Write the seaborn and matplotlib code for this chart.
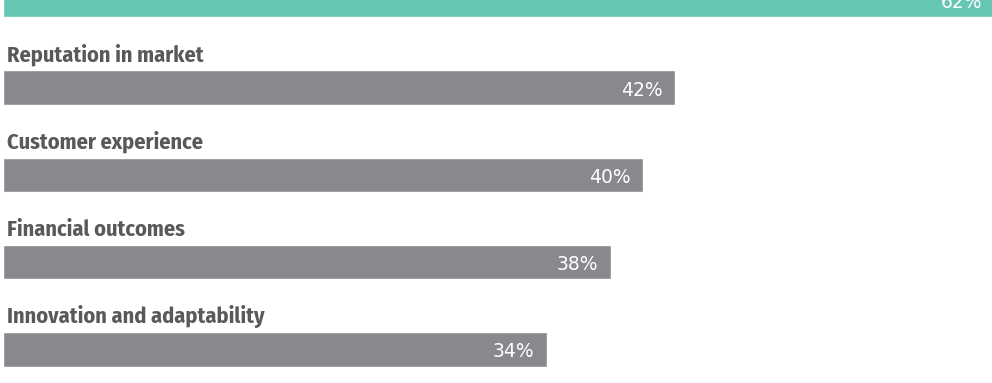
import matplotlib
matplotlib.use("Agg")
import matplotlib.pyplot as plt
import seaborn as sns
import pandas as pd

categories = ["Overall", "Reputation in market", "Customer experience",
              "Financial outcomes", "Innovation and adaptability"]
values = [62, 42, 40, 38, 34]
value_labels = ["62%", "42%", "40%", "38%", "34%"]
bar_colors = ["#66c6b4", "#88898c", "#88898c", "#88898c", "#88898c"]

sns.set_theme(style="white")
plt.rcParams["font.family"] = ["Fira Sans Condensed", "PT Sans Narrow",
                               "Asap Condensed", "DejaVu Sans"]

df = pd.DataFrame({"category": categories, "value": values})

fig = plt.figure(figsize=(9.92, 3.83), dpi=100)
ax = fig.add_axes([0, 0, 1, 1])
sns.barplot(data=df, x="value", y="category", hue="category",
            palette=bar_colors, orient="h", width=0.394, legend=False,
            saturation=1, ax=ax)

ax.set_xlim(-3 / 16, 989 / 16)
ax.set_ylim(4.385, -0.003)
ax.axis("off")

for i, (cat, v, lab) in enumerate(zip(categories, values, value_labels)):
    if i > 0:
        ax.text(0.25, i - 0.297, cat, ha="left", va="baseline", fontsize=16,
                fontweight="bold", color="#58595b")
    ax.text(v - 0.8, i + 0.092, lab, ha="right", va="baseline",
            fontsize=13.5, color="white", family=["DejaVu Sans"],
            clip_on=True)

fig.savefig("out.png", dpi=100)
